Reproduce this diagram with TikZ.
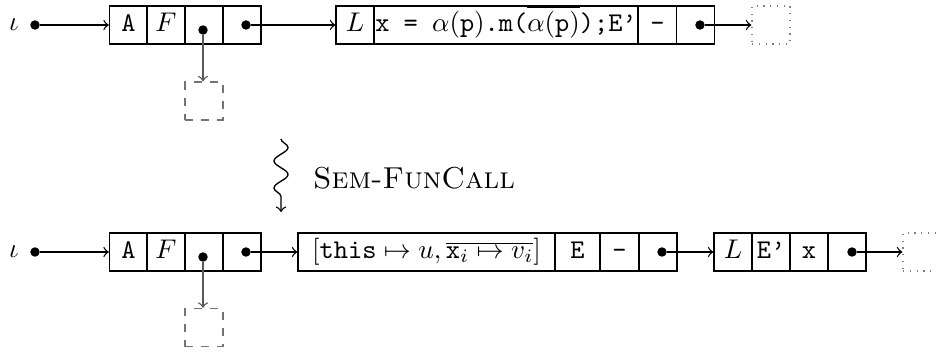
\documentclass[tikz,border=0pt]{standalone}
\usetikzlibrary{decorations.pathmorphing}
\begin{document}
\begin{tikzpicture}[x=0.37pt,y=-0.37pt, line width=0.5pt,
  every node/.style={font=\fontsize{10}{12}\selectfont},
  cell/.style={draw, minimum height=14.06pt, minimum width=14.06pt, inner sep=0pt, text height=7pt, text depth=2pt},
  ptr/.style={circle, fill, inner sep=0pt, minimum size=3.5pt},
  link/.style={->},
  ghost/.style={draw=black!55, dashed, minimum height=14.06pt, minimum width=14.06pt, inner sep=0pt},
  nextbox/.style={draw=black!50, dotted, minimum height=14.06pt, minimum width=14.06pt, inner sep=0pt},
  down/.style={->, black!65}]
\useasboundingbox (0,0) rectangle (936,352);

% ---------- top row ----------
\node (i1) at (14,25) {$\iota$};
\node[ptr] (r1) at (35,25) {};
\node[cell] (a1) at (128.5,25) {\texttt{A}};
\node[cell] (f1) at (166,25) {$F$};
\node[cell] (c1) at (204,25) {};
\node[cell] (n1) at (242,25) {};
\node[ptr] (c1d) at (203,30) {};
\node[ptr] (n1d) at (246,25) {};
\node[ghost] (g1) at (204,101) {};

\node[cell] (l1) at (355,25) {$L$};
\node[cell, minimum width=97.68pt] (w1) at (506,25)
  {$\texttt{x = }\alpha(\texttt{p})\texttt{.m(}\overline{\alpha(\texttt{p})}\texttt{);E\textquoteright}$};
\node[cell] (m1) at (657.5,25) {\texttt{-}};
\node[cell] (p1) at (695.5,25) {};
\node[ptr] (p1d) at (700,25) {};
\node[nextbox] (o1) at (771,25) {};

\draw[link] (r1) -- (a1.west);
\draw[down] (c1d) -- (c1d |- g1.north);
\draw[link] (n1d) -- (l1.west);
\draw[link] (p1d) -- (o1.west);

% ---------- rule ----------
\coordinate (s1) at (281,139);
\coordinate (s2) at (281,212);
\draw[->, decorate, decoration={snake, amplitude=2.6pt, segment length=10pt, post length=4pt}] (s1) -- (s2);
\node[font=\fontsize{11.2}{13.4}\selectfont] (rule) at (414,178) {\textsc{Sem-FunCall}};

% ---------- bottom row ----------
\node (i2) at (14,252) {$\iota$};
\node[ptr] (r2) at (35,252) {};
\node[cell] (a2) at (128.5,252) {\texttt{A}};
\node[cell] (f2) at (166,252) {$F$};
\node[cell] (c2) at (204,252) {};
\node[cell] (n2) at (242,252) {};
\node[ptr] (c2d) at (203,257) {};
\node[ptr] (n2d) at (246,252) {};
\node[ghost] (g2) at (204,327.5) {};

\node[cell, minimum width=95.09pt] (w2) at (426.5,252)
  {$[\texttt{this}\mapsto u,\overline{\texttt{x}_i\mapsto v_i}]$};
\node[cell, minimum width=16.65pt] (e2) at (577.5,252) {\texttt{E}};
\node[cell] (m2) at (619.5,252) {\texttt{-}};
\node[cell] (p2) at (658,252) {};
\node[ptr] (p2d) at (662,252) {};

\node[cell] (l2) at (733,252) {$L$};
\node[cell] (e3) at (771,252) {\texttt{E\textquoteright}};
\node[cell] (x3) at (809,252) {\texttt{x}};
\node[cell] (q3) at (847,252) {};
\node[ptr] (q3d) at (852,252) {};
\node[nextbox] (o2) at (922,252) {};

\draw[link] (r2) -- (a2.west);
\draw[down] (c2d) -- (c2d |- g2.north);
\draw[link] (n2d) -- (w2.west);
\draw[link] (p2d) -- (l2.west);
\draw[link] (q3d) -- (o2.west);
\end{tikzpicture}
\end{document}
